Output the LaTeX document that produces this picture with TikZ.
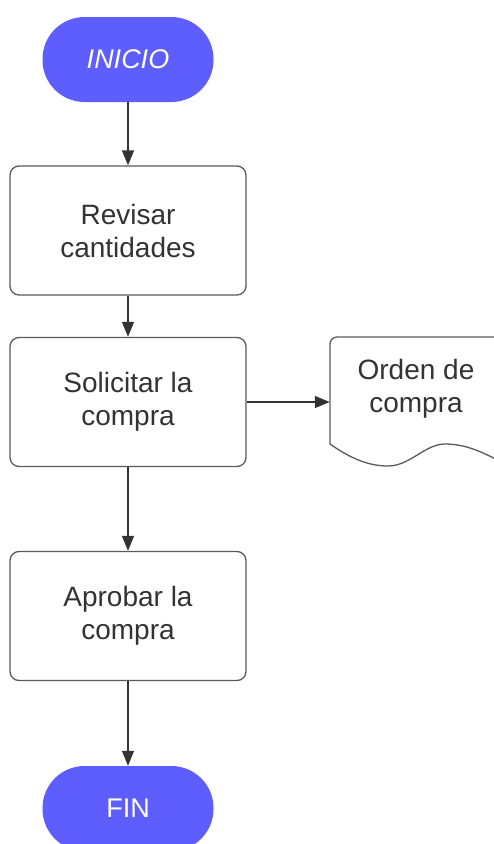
\documentclass[tikz,border=0pt]{standalone}
\usepackage{fontspec}
\setmainfont{Liberation Sans}
\usetikzlibrary{arrows.meta}
\definecolor{startblue}{RGB}{94,94,255}
\definecolor{txt}{RGB}{51,51,51}
\definecolor{edgegray}{RGB}{90,90,90}
\definecolor{arrowgray}{RGB}{51,51,51}
\begin{document}
\begin{tikzpicture}[x=1pt,y=-1pt,
  term/.style={rectangle, rounded corners=42pt, fill=startblue, draw=none,
    minimum width=171pt, minimum height=85pt, text=white, inner sep=0pt,
    font=\fontsize{27}{33}\selectfont},
  procbox/.style={rectangle, rounded corners=9pt, draw=edgegray, line width=1.3pt,
    fill=white, minimum width=236pt, minimum height=129pt, text=txt,
    align=center, font=\fontsize{28}{33}\selectfont},
  doctext/.style={text=txt, align=center, font=\fontsize{28}{33}\selectfont},
  flow/.style={draw=arrowgray, line width=1.3pt, -{Triangle[length=15pt,width=12pt]}}]
\useasboundingbox (0,0) rectangle (494,844);
\clip (0,0) rectangle (494,844);
\node[term] (start) at (128,59.5) {\itshape INICIO};
\node[procbox] (revisar) at (128,230.5) {Revisar\\cantidades};
\node[procbox] (solicitar) at (128,402) {Solicitar la\\compra};
\node[procbox] (aprobar) at (128,616) {Aprobar la\\compra};
\node[term] (fin) at (128,808.5) {FIN};
\node[minimum width=172pt, minimum height=132pt, inner sep=0pt] (doc) at (416,402) {};
\draw[draw=edgegray, line width=1.3pt, fill=white]
  (330,444) [rounded corners=7pt] -- (330,337) -- (502,337) [sharp corners] -- (502,462)
  .. controls (485,454) and (468,444) .. (445,444)
  .. controls (425,444) and (410,466) .. (388,466)
  .. controls (368,466) and (350,458) .. (330,444) -- cycle;
\node[doctext] (doclabel) at (416,388.5) {Orden de\\compra};
\draw[flow] (start.south) -- (revisar.north);
\draw[flow] (revisar.south) -- (solicitar.north);
\draw[flow] (solicitar.south) -- (aprobar.north);
\draw[flow] (aprobar.south) -- (fin.north);
\draw[flow] (solicitar.east) -- (doc.west);
\end{tikzpicture}
\end{document}
